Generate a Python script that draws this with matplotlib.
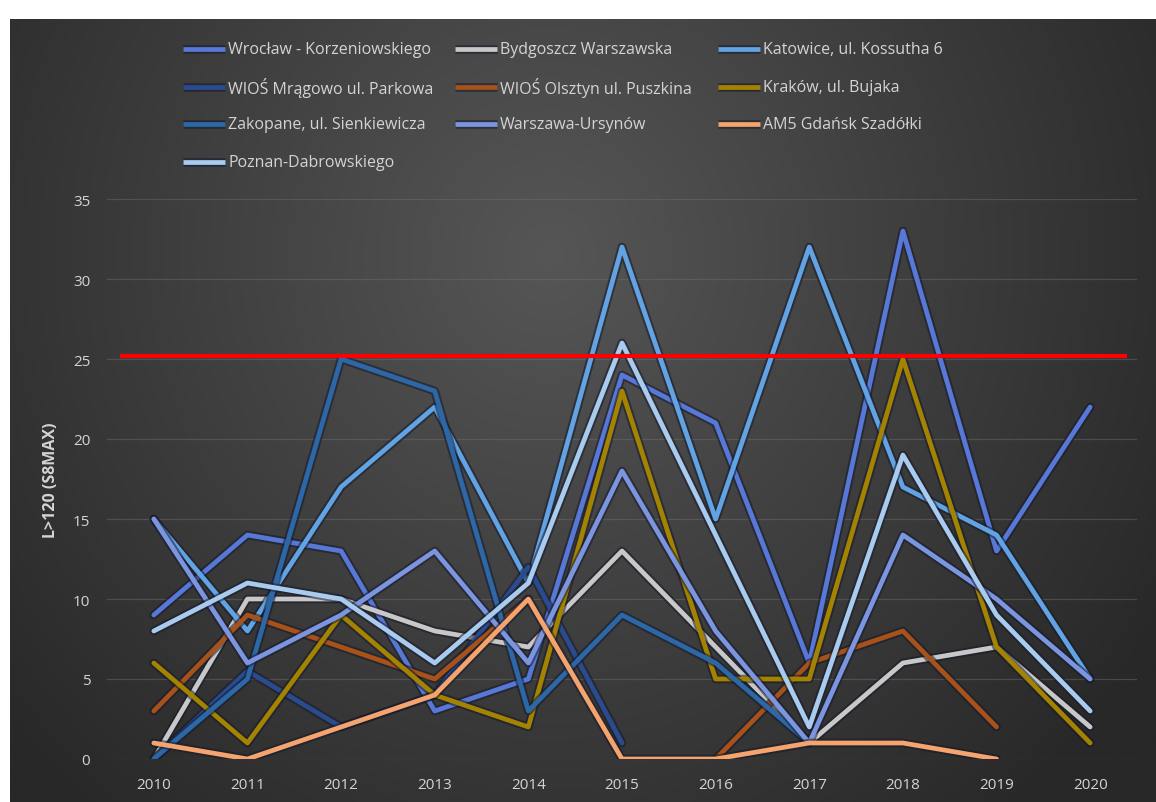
import numpy as np
import matplotlib
matplotlib.use("Agg")
import matplotlib.pyplot as plt
from matplotlib.lines import Line2D
import matplotlib.patheffects as pe

nan = np.nan

years = [2010, 2011, 2012, 2013, 2014, 2015, 2016, 2017, 2018, 2019, 2020]

stations = [
    "Wrocław - Korzeniowskiego",
    "Bydgoszcz Warszawska",
    "Katowice, ul. Kossutha 6",
    "WIOŚ Mrągowo ul. Parkowa",
    "WIOŚ Olsztyn ul. Puszkina",
    "Kraków, ul. Bujaka",
    "Zakopane, ul. Sienkiewicza",
    "Warszawa-Ursynów",
    "AM5 Gdańsk Szadółki",
    "Poznan-Dabrowskiego",
]

wroclaw = [9, 14, 13, 3, 5, 24, 21, 6, 33, 13, 22]
bydgoszcz = [0, 10, 10, 8, 7, 13, 7, 1, 6, 7, 2]
katowice = [15, 8, 17, 22, 11, 32, 15, 32, 17, 14, 5]
mragowo = [0, 5.5, 2, 4, 12, 1, nan, nan, nan, nan, nan]
olsztyn = [3, 9, 7, 5, 10, nan, 0, 6, 8, 2, nan]
krakow = [6, 1, 9, 4, 2, 23, 5, 5, 25, 7, 1]
zakopane = [0, 5, 25, 23, 3, 9, 6, 1, nan, nan, nan]
ursynow = [15, 6, 9, 13, 6, 18, 8, 1, 14, 10, 5]
gdansk = [1, 0, 2, 4, 10, 0, 0, 1, 1, 0, nan]
poznan = [8, 11, 10, 6, 11, 26, 14, 2, 19, 9, 3]

series = [wroclaw, bydgoszcz, katowice, mragowo, olsztyn,
          krakow, zakopane, ursynow, gdansk, poznan]

colors = ["#5878D8", "#C8C8C8", "#62A3E4", "#2A4C8E", "#A8521A",
          "#A38300", "#2C68A8", "#7C95E0", "#F4A46C", "#A9CBEE"]

threshold = 25.2
y_ticks = [0, 5, 10, 15, 20, 25, 30, 35]

W, H = 1156, 803
fig = plt.figure(figsize=(W / 100, H / 100), dpi=100, facecolor="white")

# dark radial-gradient chart background
bx0, by0, bx1, by1 = 10, 20, W, H
bg = fig.add_axes([bx0 / W, 1 - by1 / H, (bx1 - bx0) / W, (by1 - by0) / H])
gh, gw = 400, 600
yy, xx = np.mgrid[0:gh, 0:gw]
cx, cy = gw * 0.47, gh * 0.30
d = np.sqrt(((xx - cx) / (gw * 0.62)) ** 2 + ((yy - cy) / (gh * 0.95)) ** 2)
d = np.clip(d, 0, 1)
inner = np.array([0x56, 0x56, 0x56]) / 255
outer = np.array([0x28, 0x28, 0x28]) / 255
img = inner[None, None, :] * (1 - d[..., None]) + outer[None, None, :] * d[..., None]
bg.imshow(img, aspect="auto", extent=[0, 1, 0, 1], interpolation="bilinear")
bg.set_axis_off()
bg.set_zorder(-5)

text_col = "#D4D4D4"
font = "Open Sans"

# plotting area
px0, px1, py_top, py_bot = 107, 1137, 200, 760
ax = fig.add_axes([px0 / W, 1 - py_bot / H, (px1 - px0) / W, (py_bot - py_top) / H])
ax.set_facecolor("none")
ax.set_xlim(2009.5, 2020.5)
ax.set_ylim(0, 35)
for s in ax.spines.values():
    s.set_visible(False)
ax.set_yticks(y_ticks)
ax.set_xticks(years)
ax.tick_params(length=0, colors=text_col, labelsize=11)
ax.tick_params(axis="x", pad=13)
ax.tick_params(axis="y", pad=12)
for lab in ax.get_xticklabels() + ax.get_yticklabels():
    lab.set_fontfamily(font)
ax.yaxis.grid(True, color="#707070", lw=0.9, alpha=0.45)
ax.set_axisbelow(True)
ax.set_ylabel("L>120 (S8MAX)", color=text_col, fontsize=11.5, fontweight="bold",
              fontfamily=font, labelpad=10)

def effects():
    return [pe.Stroke(linewidth=6.2, foreground="#15182a", alpha=0.55),
            pe.Normal()]

for vals, c, name in zip(series, colors, stations):
    ax.plot(years, vals, color=c, lw=3.4, solid_joinstyle="round",
            solid_capstyle="round", path_effects=effects(), label=name, zorder=3)

# threshold line
ax.hlines(threshold, 2009.64, 2020.39, color="#FF0000", lw=3.0, zorder=4)

# legend laid out in rows like a spreadsheet chart legend
col_sw = [183, 455, 718]
row_y = [50, 88, 125, 163]
sw_len = 42
for i, (name, c) in enumerate(zip(stations, colors)):
    r, k = divmod(i, 3)
    x0 = col_sw[k]
    y = row_y[r]
    ln = Line2D([x0 / W, (x0 + sw_len) / W], [1 - y / H, 1 - y / H],
                transform=fig.transFigure, color=c, lw=3.4,
                solid_capstyle="butt", path_effects=effects())
    fig.add_artist(ln)
    fig.text((x0 + sw_len + 3) / W, 1 - y / H, name, color=text_col,
             fontsize=11.5, fontfamily=font, va="center", ha="left")

fig.savefig("out.png", dpi=100, facecolor="white")
